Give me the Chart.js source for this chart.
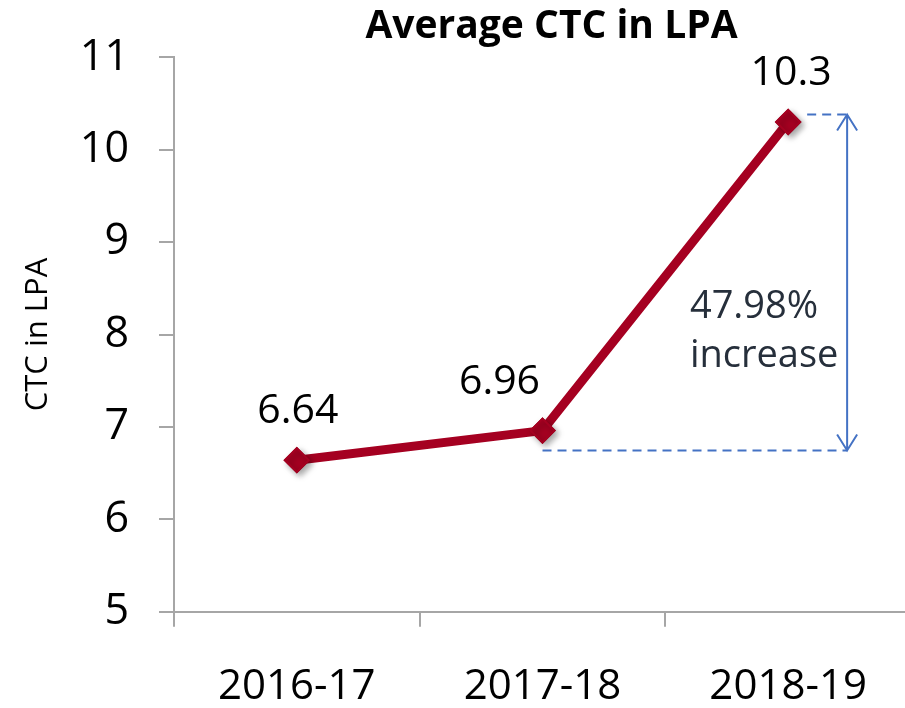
<!DOCTYPE html>
<html>
<head>
<meta charset="utf-8">
<script src="https://cdn.jsdelivr.net/npm/chart.js@4"></script>
<style>
  html, body { margin: 0; padding: 0; background: #fff; overflow: hidden; }
  #wrap { width: 911px; height: 708px; position: relative; }
</style>
</head>
<body>
<div id="wrap"><canvas id="c" width="911" height="708"></canvas></div>
<script>
const categories = ['2016-17', '2017-18', '2018-19'];
const ctcValues = [6.64, 6.96, 10.3];
const dataLabels = ['6.64', '6.96', '10.3'];
const yTicks = [5, 6, 7, 8, 9, 10, 11];
const chartTitle = 'Average CTC in LPA';
const yAxisTitle = 'CTC in LPA';
const noteLines = ['47.98%', 'increase'];
// annotation anchors (category index / value units)
const bracketTopValue = 10.38;
const bracketBottomValue = 6.745;
const bracketTopStartIndex = 2;
const bracketBottomStartIndex = 1;
const bracketArrowIndex = 2.24;
const noteIndex = 1.6;
const noteValues = [8.175, 7.645];

const FONT = "'Open Sans', 'Noto Sans', sans-serif";
const labelDx = [1, -43, 3];

const titlePlugin = {
  id: 'titleText',
  afterDraw(chart) {
    const ctx = chart.ctx;
    const a = chart.chartArea;
    ctx.save();
    ctx.font = "bold 39px " + FONT;
    ctx.fillStyle = '#000';
    ctx.textAlign = 'center';
    ctx.textBaseline = 'alphabetic';
    ctx.fillText(chartTitle, (a.left + a.right) / 2 + 9, 38);
    ctx.restore();
  }
};

const valueLabelPlugin = {
  id: 'valueLabels',
  afterDatasetsDraw(chart) {
    const ctx = chart.ctx;
    const meta = chart.getDatasetMeta(0);
    ctx.save();
    ctx.shadowColor = 'rgba(0,0,0,0.35)';
    ctx.shadowBlur = 6;
    ctx.shadowOffsetX = 3;
    ctx.shadowOffsetY = 3;
    meta.data.forEach(pt => pt.draw(ctx, chart.chartArea));
    ctx.restore();
    ctx.save();
    ctx.font = "41px " + FONT;
    ctx.fillStyle = '#000';
    ctx.textAlign = 'center';
    ctx.textBaseline = 'alphabetic';
    meta.data.forEach((pt, i) => {
      ctx.fillText(dataLabels[i], pt.x + labelDx[i], pt.y - 37);
    });
    ctx.restore();
  }
};

const bracketPlugin = {
  id: 'bracket',
  afterDatasetsDraw(chart) {
    const ctx = chart.ctx;
    const x = chart.scales.x, y = chart.scales.y;
    const ax = x.getPixelForValue(bracketArrowIndex);
    const yt = y.getPixelForValue(bracketTopValue);
    const yb = y.getPixelForValue(bracketBottomValue);
    ctx.save();
    ctx.strokeStyle = '#4472C4';
    ctx.lineWidth = 2;
    ctx.setLineDash([9, 6]);
    ctx.beginPath();
    ctx.moveTo(x.getPixelForValue(bracketTopStartIndex) + 19, yt);
    ctx.lineTo(ax, yt);
    ctx.moveTo(x.getPixelForValue(bracketBottomStartIndex), yb);
    ctx.lineTo(ax, yb);
    ctx.stroke();
    ctx.setLineDash([]);
    ctx.beginPath();
    ctx.moveTo(ax, yt);
    ctx.lineTo(ax, yb);
    ctx.moveTo(ax - 10, yt + 16);
    ctx.lineTo(ax, yt);
    ctx.lineTo(ax + 10, yt + 16);
    ctx.moveTo(ax - 10, yb - 16);
    ctx.lineTo(ax, yb);
    ctx.lineTo(ax + 10, yb - 16);
    ctx.stroke();
    ctx.font = "38px " + FONT;
    ctx.fillStyle = '#262F3B';
    ctx.textAlign = 'left';
    ctx.textBaseline = 'alphabetic';
    const nx = x.getPixelForValue(noteIndex);
    noteLines.forEach((t, i) => ctx.fillText(t, nx, y.getPixelForValue(noteValues[i])));
    ctx.restore();
  }
};

new Chart(document.getElementById('c'), {
  type: 'line',
  data: {
    labels: categories,
    datasets: [{
      data: ctcValues,
      borderColor: '#A50021',
      backgroundColor: '#A50021',
      borderWidth: 9,
      pointStyle: 'rectRot',
      pointRadius: 12,
      pointBorderWidth: 2,
      pointBorderColor: '#A50021',
      pointBackgroundColor: '#A50021',
      tension: 0,
      fill: false
    }]
  },
  options: {
    responsive: false,
    animation: false,
    layout: { autoPadding: false, padding: { left: 0, right: 0, top: 57.3, bottom: 0 } },
    plugins: {
      legend: { display: false },
      tooltip: { enabled: false },
      title: { display: false }
    },
    scales: {
      x: {
        type: 'category',
        offset: true,
        grid: { display: true, drawOnChartArea: false, drawTicks: true, tickLength: 15, offset: true, color: '#A6A6A6', lineWidth: 2 },
        border: { display: true, color: '#A6A6A6', width: 2 },
        ticks: { color: '#000', font: { family: FONT, size: 42 }, padding: 35, maxRotation: 0 },
        afterFit(s) { s.height = 96.3; s.paddingLeft = 0; s.paddingRight = 0; }
      },
      y: {
        min: 5,
        max: 11,
        afterBuildTicks(s) { s.ticks = yTicks.map(v => ({ value: v })); },
        grid: { display: true, drawOnChartArea: false, drawTicks: true, tickLength: 15, color: '#A6A6A6', lineWidth: 2 },
        border: { display: true, color: '#A6A6A6', width: 2 },
        ticks: { color: '#000', font: { family: FONT, size: 43 }, padding: 30 },
        title: {
          display: true,
          text: yAxisTitle,
          color: '#000',
          font: { family: FONT, size: 31 },
          padding: { top: 20, bottom: 0 }
        },
        afterFit(s) { s.width = 174; s.paddingTop = 0; s.paddingBottom = 0; }
      }
    }
  },
  plugins: [titlePlugin, valueLabelPlugin, bracketPlugin]
});
</script>
</body>
</html>
